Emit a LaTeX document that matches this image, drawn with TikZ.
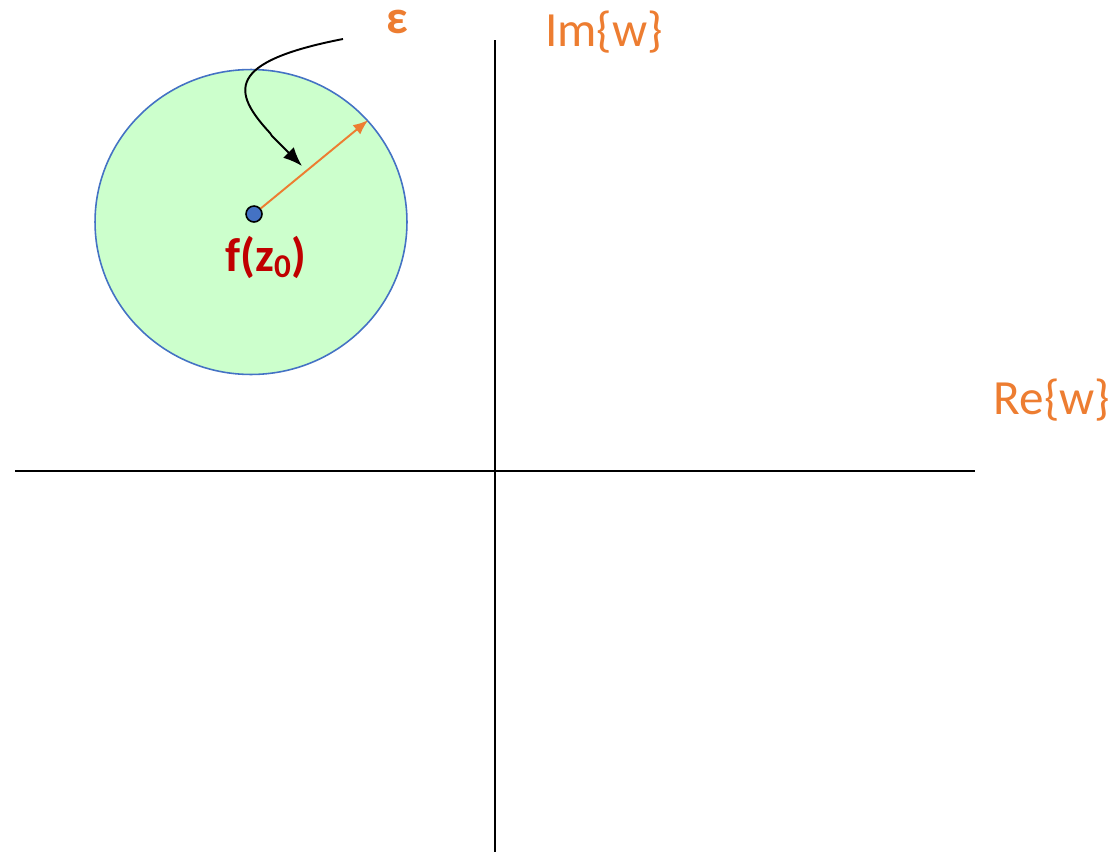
\documentclass[tikz,border=0pt]{standalone}
\usepackage{fontspec}
\setmainfont{Carlito}
\usetikzlibrary{arrows.meta,shapes.geometric}

\definecolor{wOrange}{HTML}{ED7D31}
\definecolor{wRed}{HTML}{C00000}
\definecolor{wBlue}{HTML}{4472C4}
\definecolor{wGreen}{HTML}{CCFFCC}

\begin{document}
\begin{tikzpicture}[
  x=0.02cm, y=-0.02cm,
  axis/.style={draw, line width=1.1pt},
  lbl/.style={text=wOrange, font=\fontsize{28}{32}\selectfont, inner sep=0pt},
  disk/.style={ellipse, draw=wBlue, fill=wGreen, line width=0.9pt, minimum width=6.24cm, minimum height=6.1cm, inner sep=0pt},
  dot/.style={circle, draw, fill=wBlue, line width=0.9pt, minimum size=0.32cm, inner sep=0pt},
  radius arrow/.style={-{Latex[length=3mm, width=2.4mm]}, draw=wOrange, fill=wOrange, line width=1.1pt},
  note arrow/.style={-{Latex[length=3.8mm, width=3mm]}, line width=1.1pt},
]
\useasboundingbox (0,0) rectangle (1114,852);

% -- axes --
\coordinate (reL) at (15,471);
\coordinate (reR) at (975,471);
\coordinate (imT) at (495,40);
\coordinate (imB) at (495,852);
\draw[axis] (reL) -- (reR);
\draw[axis] (imT) -- (imB);
\node[lbl] (im) at (604,32) {Im\{w\}};
\node[lbl] (re) at (1052,400) {Re\{w\}};

% -- neighbourhood of f(z0) --
\node[disk] (nbhd) at (251,222) {};
\node[dot] (fz) at (254,214) {};
\node[text=wRed, font=\fontsize{27}{30}\selectfont\bfseries, inner sep=0pt] (fzlbl) at (266,257) {f(z\textsubscript{0})};
\draw[radius arrow] (fz) -- (nbhd.41);

% -- epsilon --
\node[text=wOrange, font=\fontsize{27}{30}\selectfont\bfseries, inner sep=0pt, anchor=base] (eps) at (397,33) {ε};
\coordinate (epsTail) at (343,39);
\coordinate (kink) at (270,133);
\coordinate (epsHead) at (302,166);
\draw[note arrow] (epsTail) .. controls (225,62) and (232,92) .. (kink) -- (272,136) -- (epsHead);

\end{tikzpicture}
\end{document}
